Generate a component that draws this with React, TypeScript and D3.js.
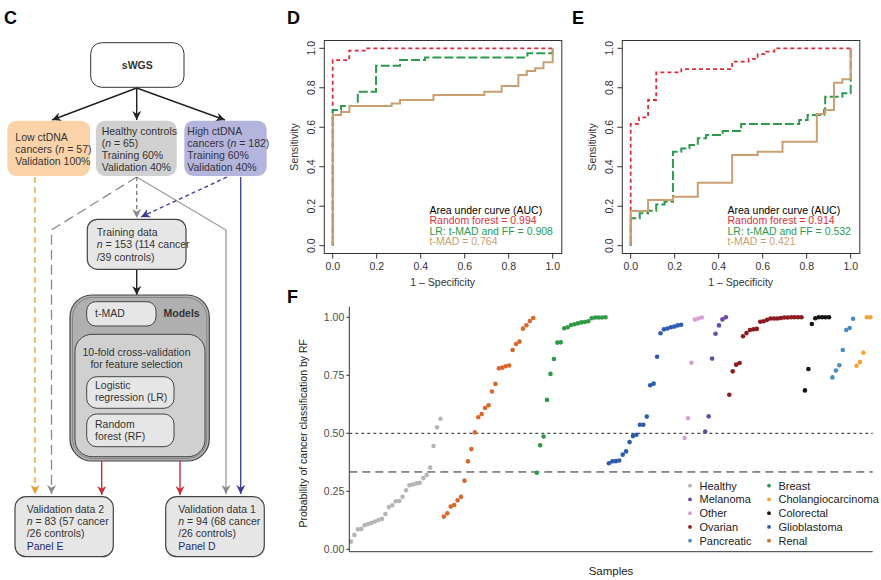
import React from "react";
import * as d3 from "d3";

// ---------- Panel D / E ROC data (step corners: [1-specificity, sensitivity]) ----------
const rocD_RF: [number, number][] = [[0,0],[0,0.94],[0.075,0.94],[0.075,0.988],[0.157,0.988],[0.157,1],[1,1]];
const rocD_LR: [number, number][] = [[0,0],[0,0.666],[0,0.688],[0.038,0.688],[0.038,0.708],[0.114,0.708],[0.114,0.78],[0.197,0.78],[0.197,0.912],[0.306,0.912],[0.306,0.941],[0.42,0.941],[0.42,0.954],[0.885,0.954],[0.885,0.975],[1,0.975],[1,1]];
const rocD_TM: [number, number][] = [[0,0],[0,0.662],[0.038,0.662],[0.038,0.677],[0.076,0.677],[0.076,0.708],[0.268,0.708],[0.268,0.721],[0.306,0.721],[0.306,0.738],[0.458,0.738],[0.458,0.764],[0.689,0.764],[0.689,0.78],[0.768,0.78],[0.768,0.809],[0.844,0.809],[0.844,0.865],[0.882,0.865],[0.882,0.885],[0.92,0.885],[0.92,0.899],[0.958,0.899],[0.958,0.929],[1,0.929],[1,1]];

const rocE_RF: [number, number][] = [[0,0],[0,0.617],[0.038,0.617],[0.038,0.65],[0.079,0.65],[0.079,0.738],[0.116,0.738],[0.116,0.878],[0.23,0.878],[0.23,0.895],[0.461,0.895],[0.461,0.932],[0.536,0.932],[0.536,0.946],[0.577,0.946],[0.577,0.97],[0.615,0.97],[0.615,0.983],[0.653,0.983],[0.653,1],[1,1]];
const rocE_LR: [number, number][] = [[0,0],[0,0.139],[0.041,0.139],[0.041,0.164],[0.079,0.164],[0.079,0.177],[0.116,0.177],[0.116,0.209],[0.154,0.209],[0.154,0.223],[0.192,0.223],[0.192,0.476],[0.23,0.476],[0.23,0.493],[0.267,0.493],[0.267,0.51],[0.305,0.51],[0.305,0.544],[0.343,0.544],[0.343,0.561],[0.418,0.561],[0.418,0.581],[0.502,0.581],[0.502,0.617],[0.766,0.617],[0.766,0.637],[0.804,0.637],[0.804,0.662],[0.879,0.662],[0.879,0.688],[0.884,0.688],[0.884,0.755],[0.962,0.755],[0.962,0.772],[1,0.772],[1,1]];
const rocE_TM: [number, number][] = [[0,0],[0,0.176],[0.079,0.176],[0.079,0.231],[0.192,0.231],[0.192,0.248],[0.305,0.248],[0.305,0.319],[0.461,0.319],[0.461,0.459],[0.577,0.459],[0.577,0.476],[0.69,0.476],[0.69,0.527],[0.846,0.527],[0.846,0.667],[0.884,0.667],[0.884,0.688],[0.924,0.688],[0.924,0.826],[0.962,0.826],[0.962,0.843],[1,0.843],[1,1]];

const rocTicks = [0, 0.2, 0.4, 0.6, 0.8, 1.0];
const aucD = ["Random forest = 0.994", "LR: t-MAD and FF = 0.908", "t-MAD = 0.764"];
const aucE = ["Random forest = 0.914", "LR: t-MAD and FF = 0.532", "t-MAD = 0.421"];

// ---------- Panel F data ----------
const healthy = [0.033,0.062,0.086,0.088,0.104,0.109,0.114,0.12,0.126,0.131,0.152,0.182,0.19,0.207,0.208,0.226,0.254,0.276,0.279,0.284,0.287,0.307,0.32,0.352,0.445,0.526,0.563];
const renal = [0.141,0.155,0.184,0.191,0.211,0.226,0.296,0.379,0.432,0.504,0.569,0.583,0.609,0.621,0.68,0.713,0.78,0.783,0.789,0.792,0.859,0.885,0.895,0.951,0.966,0.984,0.997];
const breast = [0.33,0.448,0.486,0.644,0.756,0.82,0.891,0.892,0.953,0.957,0.967,0.97,0.974,0.978,0.98,0.983,0.996,0.999,0.999,0.999,1.0];
const glioblastoma = [0.371,0.379,0.38,0.383,0.408,0.422,0.462,0.488,0.494,0.537,0.537,0.572,0.707,0.714,0.83,0.931,0.948,0.952,0.957,0.96,0.965,0.968];
const other = [0.48,0.565,0.804,0.99,0.995,0.999];
const melanoma = [0.508,0.573,0.822,0.929,0.965,0.991,1.0];
const ovarian = [0.666,0.767,0.796,0.803,0.918,0.932,0.945,0.948,0.95,0.981,0.983,0.989,0.995,0.995,0.995,0.997,0.999,0.999,1.0,1.0,1.0,1.0];
const colorectal = [0.685,0.777,0.971,0.996,1.0,1.0,1.0,1.0];
const pancreatic = [0.741,0.771,0.793,0.859,0.945,0.954,0.994];
const cholangio = [0.791,0.807,0.847,1.0,1.0];

const groupOrder = ["Healthy","Renal","Breast","Glioblastoma","Other","Melanoma","Ovarian","Colorectal","Pancreatic","Cholangiocarcinoma"];
const groupValues: Record<string, number[]> = {
  Healthy: healthy, Renal: renal, Breast: breast, Glioblastoma: glioblastoma, Other: other,
  Melanoma: melanoma, Ovarian: ovarian, Colorectal: colorectal, Pancreatic: pancreatic, Cholangiocarcinoma: cholangio,
};
const groupColors: Record<string, string> = {
  Healthy: "#b5b5b5", Renal: "#d8692c", Breast: "#2f9a48", Glioblastoma: "#2d5bb0", Other: "#d79fd2",
  Melanoma: "#6a4aa8", Ovarian: "#8c1c22", Colorectal: "#141414", Pancreatic: "#4a8cc6", Cholangiocarcinoma: "#f8a232",
};
const legendCol1 = ["Healthy","Melanoma","Other","Ovarian","Pancreatic"];
const legendCol2 = ["Breast","Cholangiocarcinoma","Colorectal","Glioblastoma","Renal"];
const fTicks = [0, 0.25, 0.5, 0.75, 1.0];
const thresholds = [0.5, 1 / 3];

const FONT = "'Liberation Sans', Arial, Helvetica, sans-serif";
const RED = "#dc2f3c";
const GREEN = "#2e9a4e";
const TAN = "#caa073";

function RocPanel({ left, letter, letterX, rf, lr, tm, auc }: any) {
  const x = d3.scaleLinear().domain([0, 1]).range([left + 8.4, left + 228.4]);
  const y = d3.scaleLinear().domain([0, 1]).range([245.7, 48.3]);
  const boxL = left, boxR = left + 237.5, boxT = 40.5, boxB = 253.5;
  const line = d3.line<[number, number]>().x((d) => x(d[0])).y((d) => y(d[1]));
  const lx = x(0.44);
  return (
    <g fontFamily={FONT}>
      <text x={letterX} y={24} fontSize={18} fontWeight="bold" fill="#000">{letter}</text>
      <path d={line(rf) || ""} fill="none" stroke={RED} strokeWidth={1.8} strokeDasharray="4,3" />
      <path d={line(lr) || ""} fill="none" stroke={GREEN} strokeWidth={2} strokeDasharray="9,3" />
      <path d={line(tm) || ""} fill="none" stroke={TAN} strokeWidth={2} />
      <rect x={boxL} y={boxT} width={boxR - boxL} height={boxB - boxT} fill="none" stroke="#333" strokeWidth={1} />
      {rocTicks.map((t) => (
        <g key={"x" + t}>
          <line x1={x(t)} x2={x(t)} y1={boxB} y2={boxB + 5} stroke="#333" />
          <text x={x(t)} y={269.5} textAnchor="middle" fontSize={10.5} fill="#333">{t.toFixed(1)}</text>
        </g>
      ))}
      {rocTicks.map((t) => (
        <g key={"y" + t}>
          <line x1={boxL - 5} x2={boxL} y1={y(t)} y2={y(t)} stroke="#333" />
          <text transform={`translate(${boxL - 9},${y(t)}) rotate(-90)`} textAnchor="middle" fontSize={10.5} fill="#333">{t.toFixed(1)}</text>
        </g>
      ))}
      <text x={(x(0) + x(1)) / 2} y={285.5} textAnchor="middle" fontSize={10.5} fill="#333">1 – Specificity</text>
      <text transform={`translate(${boxL - 26},${y(0.5)}) rotate(-90)`} textAnchor="middle" fontSize={10.5} fill="#333">Sensitivity</text>
      <text x={lx} y={213.5} fontSize={10.5} fill="#000">Area under curve (AUC)</text>
      <text x={lx} y={224} fontSize={10.5} fill={RED}>{auc[0]}</text>
      <text x={lx} y={234.5} fontSize={10.5} fill={GREEN}>{auc[1]}</text>
      <text x={lx} y={245} fontSize={10.5} fill={TAN}>{auc[2]}</text>
    </g>
  );
}

function PanelF() {
  const all: { g: string; v: number }[] = [];
  groupOrder.forEach((g) => groupValues[g].forEach((v) => all.push({ g, v })));
  const x = d3.scaleLinear().domain([0, all.length - 1]).range([351, 870.3]);
  const y = d3.scaleLinear().domain([0, 1]).range([549.3, 317.3]);
  const axL = 349.3, axB = 551.7, axT = 306.7, axR = 872.7;
  return (
    <g fontFamily={FONT}>
      <text x={287} y={303} fontSize={18} fontWeight="bold" fill="#000">F</text>
      <line x1={axL} x2={axR} y1={y(thresholds[0])} y2={y(thresholds[0])} stroke="#222" strokeWidth={1} strokeDasharray="3,3" />
      <line x1={axL} x2={axR} y1={y(thresholds[1])} y2={y(thresholds[1])} stroke="#222" strokeWidth={1} strokeDasharray="8,5" />
      {all.map((d, i) => (
        <circle key={i} cx={x(i)} cy={y(d.v)} r={2.3} fill={groupColors[d.g]} />
      ))}
      <line x1={axL} x2={axL} y1={axT} y2={axB} stroke="#333" strokeWidth={1} />
      <line x1={axL} x2={axR} y1={axB} y2={axB} stroke="#333" strokeWidth={1} />
      {fTicks.map((t) => (
        <g key={t}>
          <line x1={axL - 3} x2={axL} y1={y(t)} y2={y(t)} stroke="#333" />
          <text x={axL - 5} y={y(t) + 3.7} textAnchor="end" fontSize={10.5} fill="#4d4d4d">{t.toFixed(2)}</text>
        </g>
      ))}
      <text transform={`translate(${307},${y(0.5)}) rotate(-90)`} textAnchor="middle" fontSize={10.5} fill="#222">Probability of cancer classification by RF</text>
      <text x={(axL + axR) / 2} y={575} textAnchor="middle" fontSize={11.5} fill="#222">Samples</text>
      {[legendCol1, legendCol2].map((col, ci) =>
        col.map((g, ri) => (
          <g key={g}>
            <circle cx={ci === 0 ? 690 : 769} cy={485.7 + ri * 13.75} r={1.9} fill={groupColors[g]} />
            <text x={ci === 0 ? 699.5 : 778.5} y={485.7 + ri * 13.75 + 3.9} fontSize={11} fill="#222">{g}</text>
          </g>
        ))
      )}
    </g>
  );
}

function Box({ x, y, w, h, r, fill, stroke, sw = 1 }: any) {
  return <rect x={x} y={y} width={w} height={h} rx={r} ry={r} fill={fill} stroke={stroke} strokeWidth={sw} />;
}

function Lines({ x, y, lines, size = 10.5, gap = 12.2, fill = "#333", anchor = "start" }: any) {
  return (
    <text fontSize={size} fill={fill} textAnchor={anchor}>
      {lines.map((l: any, i: number) => (
        <tspan key={i} x={x} y={y + i * gap}>{l}</tspan>
      ))}
    </text>
  );
}

const N = () => <tspan fontStyle="italic">n</tspan>;

function PanelC() {
  const markers = [
    ["arK", "#222"], ["arO", "#f39a2c"], ["arG", "#8a8a8a"], ["arR", "#c8323c"], ["arB", "#3a3a9c"],
  ];
  return (
    <g fontFamily={FONT}>
      <defs>
        {markers.map(([id, c]) => (
          <marker key={id} id={id} viewBox="0 0 10 10" refX={10} refY={5} markerWidth={9} markerHeight={9} orient="auto" markerUnits="userSpaceOnUse">
            <path d="M0,0 L10,5 L0,10 L3,5 Z" fill={c} />
          </marker>
        ))}
      </defs>
      <text x={4} y={24} fontSize={18} fontWeight="bold" fill="#000">C</text>

      {/* sWGS */}
      <Box x={90.7} y={42.7} w={93.3} h={44.6} r={11} fill="#fff" stroke="#333" />
      <text x={137.3} y={69} textAnchor="middle" fontSize={10.5} fontWeight="bold" fill="#333">sWGS</text>
      <line x1={136.7} y1={88} x2={52} y2={120} stroke="#222" strokeWidth={1.4} markerEnd="url(#arK)" />
      <line x1={136.7} y1={88} x2={136.7} y2={120} stroke="#222" strokeWidth={1.4} markerEnd="url(#arK)" />
      <line x1={136.7} y1={88} x2={225} y2={120} stroke="#222" strokeWidth={1.4} markerEnd="url(#arK)" />

      {/* three category boxes */}
      <Box x={7.3} y={120.7} w={82.7} h={55.3} r={9} fill="#fcd3a9" stroke="none" />
      <Box x={96} y={120.7} w={80.7} h={55.3} r={9} fill="#d0d0d0" stroke="none" />
      <Box x={184.3} y={120.7} w={82.4} h={55.3} r={9} fill="#b4b4dc" stroke="none" />
      <Lines x={15.3} y={140.5} lines={["Low ctDNA", <>cancers (<N /> = 57)</>, "Validation 100%"]} gap={12} />
      <Lines x={101.7} y={134.5} lines={["Healthy controls", <>(<N /> = 65)</>, "Training 60%", "Validation 40%"]} gap={12.2} />
      <Lines x={187.3} y={134.5} lines={["High ctDNA", <>cancers (<N /> = 182)</>, "Training 60%", "Validation 40%"]} gap={12.2} />

      {/* connectors */}
      <line x1={35} y1={177} x2={35} y2={494} stroke="#f39a2c" strokeWidth={1.3} strokeDasharray="6,4" markerEnd="url(#arO)" />
      <polyline points="136.7,177 51.5,230 51.5,494" fill="none" stroke="#8a8a8a" strokeWidth={1.3} strokeDasharray="10,5" markerEnd="url(#arG)" />
      <polyline points="136.7,177 226,230 226,494" fill="none" stroke="#9a9a9a" strokeWidth={1.3} markerEnd="url(#arG)" />
      <line x1={240.7} y1={177} x2={240.7} y2={494} stroke="#3a3a9c" strokeWidth={1.3} markerEnd="url(#arB)" />
      <line x1={136.7} y1={177} x2={136.7} y2={218} stroke="#7a7a7a" strokeWidth={1.3} strokeDasharray="4,3" markerEnd="url(#arG)" />
      <line x1={227} y1={177} x2={141} y2={217} stroke="#3a3a9c" strokeWidth={1.3} strokeDasharray="4,3" markerEnd="url(#arB)" />

      {/* Training data */}
      <Box x={87.3} y={219.3} w={98.7} h={50} r={10} fill="#e6e6e6" stroke="#444" sw={1.2} />
      <Lines x={96.7} y={236} lines={["Training data", <><N /> = 153 (114 cancer</>, "/39 controls)"]} gap={12.3} />
      <line x1={136.7} y1={270} x2={136.7} y2={295} stroke="#222" strokeWidth={1.4} markerEnd="url(#arK)" />

      {/* Models */}
      <Box x={70} y={295} w={139.3} h={166} r={22} fill="#b0b0b0" stroke="#444" sw={1.2} />
      <Box x={72.5} y={297.5} w={134.3} h={161} r={20} fill="none" stroke="#666" sw={0.6} />
      <Box x={86.7} y={301.7} w={69.3} h={24.3} r={9} fill="#e6e6e6" stroke="#444" />
      <text x={95} y={317} fontSize={10.5} fill="#333">t-MAD</text>
      <text x={163.5} y={317} fontSize={10.5} fontWeight="bold" fill="#333">Models</text>
      <Box x={75} y={334.3} w={130} h={122.4} r={17} fill="#d0d0d0" stroke="#444" />
      <Lines x={136.5} y={355.5} lines={["10-fold cross-validation", "for feature selection"]} gap={12.3} anchor="middle" />
      <Box x={86.7} y={376.7} w={87.3} h={31.6} r={10} fill="#e6e6e6" stroke="#444" />
      <Lines x={95} y={389} lines={["Logistic", <>regression (LR)</>]} gap={12.3} />
      <Box x={86.7} y={414} w={87.3} h={32.7} r={10} fill="#e6e6e6" stroke="#444" />
      <Lines x={95} y={428} lines={["Random", "forest (RF)"]} gap={12} />
      <line x1={101.7} y1={461} x2={101.7} y2={495} stroke="#c8323c" strokeWidth={1.4} markerEnd="url(#arR)" />
      <line x1={180} y1={461} x2={180} y2={495} stroke="#c8323c" strokeWidth={1.4} markerEnd="url(#arR)" />

      {/* Validation boxes */}
      <Box x={15} y={496.7} w={98.3} h={60} r={11} fill="#e6e6e6" stroke="#444" sw={1.2} />
      <Lines x={26.7} y={513} lines={["Validation data 2", <><N /> = 83 (57 cancer</>, "/26 controls)"]} gap={12.2} />
      <text x={26.7} y={549.6} fontSize={10.5} fill="#1c2a6e">Panel E</text>
      <Box x={165.7} y={496.7} w={98.6} h={60} r={11} fill="#e6e6e6" stroke="#444" sw={1.2} />
      <Lines x={178.3} y={513} lines={["Validation data 1", <><N /> = 94 (68 cancer</>, "/26 controls)"]} gap={12.2} />
      <text x={178.3} y={549.6} fontSize={10.5} fill="#1c2a6e">Panel D</text>
    </g>
  );
}

export default function App() {
  return (
    <svg width={881} height={580} style={{ position: "absolute", left: 0, top: 0, background: "#fff" }}>
      <rect width={881} height={580} fill="#fff" />
      <PanelC />
      <RocPanel left={324.3} letter="D" letterX={287} rf={rocD_RF} lr={rocD_LR} tm={rocD_TM} auc={aucD} />
      <RocPanel left={622.3} letter="E" letterX={572} rf={rocE_RF} lr={rocE_LR} tm={rocE_TM} auc={aucE} />
      <PanelF />
    </svg>
  );
}
